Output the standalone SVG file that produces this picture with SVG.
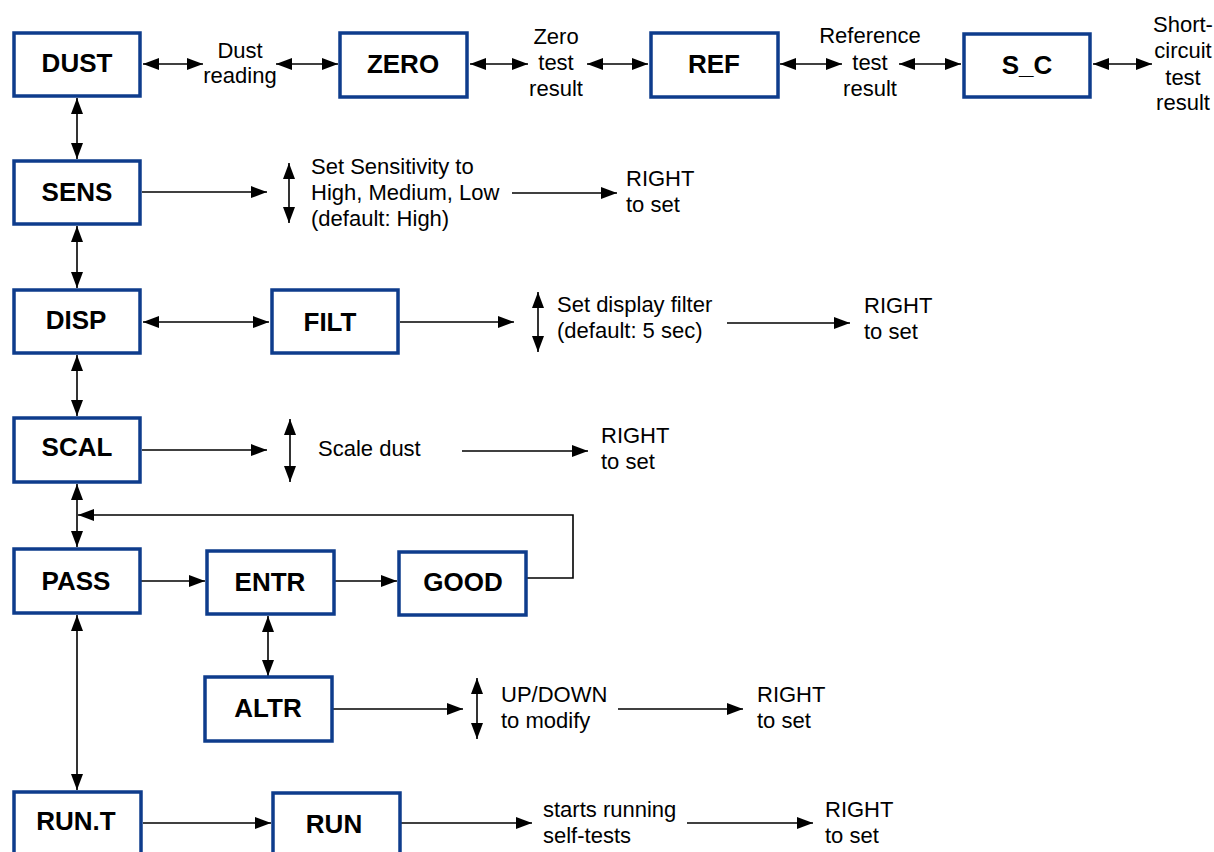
<svg xmlns="http://www.w3.org/2000/svg" width="1214" height="852" viewBox="0 0 1214 852">
<style>
.box{fill:#fff;stroke:#0e3c8c;stroke-width:3.5}
.bl{font-family:"Liberation Sans",Arial,sans-serif;font-weight:bold;font-size:26px;fill:#000;text-anchor:middle}
.t{font-family:"Liberation Sans",Arial,sans-serif;font-size:22px;fill:#000}
.c{text-anchor:middle}
.ln{fill:none;stroke:#000;stroke-width:1.6}
.a{marker-end:url(#ah)}
.d{marker-start:url(#ah);marker-end:url(#ah)}
</style>
<defs>
<marker id="ah" markerUnits="userSpaceOnUse" markerWidth="16" markerHeight="12" refX="16" refY="6" orient="auto-start-reverse">
<path d="M0,0 L16,6 L0,12 z" fill="#000"/>
</marker>
</defs>
<rect width="1214" height="852" fill="#fff"/>
<g id="connectors">
<line class="ln d" x1="143" y1="64" x2="203" y2="64"/>
<line class="ln d" x1="276" y1="64" x2="338" y2="64"/>
<line class="ln d" x1="470" y1="64" x2="528" y2="64"/>
<line class="ln d" x1="587" y1="64" x2="648" y2="64"/>
<line class="ln d" x1="780" y1="64" x2="842" y2="64"/>
<line class="ln d" x1="899" y1="64" x2="961" y2="64"/>
<line class="ln d" x1="1093" y1="64" x2="1152" y2="64"/>
<line class="ln d" x1="77" y1="98" x2="77" y2="159"/>
<line class="ln d" x1="77" y1="226" x2="77" y2="288"/>
<line class="ln d" x1="77" y1="355" x2="77" y2="416"/>
<line class="ln d" x1="77" y1="484" x2="77" y2="547"/>
<line class="ln d" x1="77" y1="615" x2="77" y2="790"/>
<line class="ln a" x1="142" y1="192" x2="267" y2="192"/>
<line class="ln d" x1="289" y1="163" x2="289" y2="223"/>
<line class="ln a" x1="512" y1="193" x2="617" y2="193"/>
<line class="ln d" x1="143" y1="322" x2="269" y2="322"/>
<line class="ln a" x1="400" y1="322" x2="514" y2="322"/>
<line class="ln d" x1="538" y1="292" x2="538" y2="352"/>
<line class="ln a" x1="727" y1="323" x2="850" y2="323"/>
<line class="ln a" x1="142" y1="450" x2="267" y2="450"/>
<line class="ln d" x1="290" y1="419" x2="290" y2="482"/>
<line class="ln a" x1="462" y1="451" x2="588" y2="451"/>
<line class="ln a" x1="141" y1="581" x2="205" y2="581"/>
<line class="ln a" x1="335" y1="581" x2="397" y2="581"/>
<polyline class="ln a" points="527,578 573,578 573,515 78,515"/>
<line class="ln d" x1="268" y1="616" x2="268" y2="676"/>
<line class="ln a" x1="333" y1="709" x2="463" y2="709"/>
<line class="ln d" x1="477" y1="678" x2="477" y2="739"/>
<line class="ln a" x1="618" y1="709" x2="743" y2="709"/>
<line class="ln a" x1="143" y1="823" x2="271" y2="823"/>
<line class="ln a" x1="401" y1="823" x2="532" y2="823"/>
<line class="ln a" x1="687" y1="823" x2="813" y2="823"/>
</g>
<g id="DUST"><rect class="box" x="14" y="33" width="126" height="63"/><text class="bl" x="77" y="72">DUST</text></g>
<g id="ZERO"><rect class="box" x="340" y="33" width="127" height="64"/><text class="bl" x="403" y="73">ZERO</text></g>
<g id="REF"><rect class="box" x="651" y="33" width="127" height="64"/><text class="bl" x="714" y="73">REF</text></g>
<g id="S_C"><rect class="box" x="964" y="34" width="126" height="63"/><text class="bl" x="1027" y="74">S_C</text></g>
<g id="SENS"><rect class="box" x="14" y="161" width="126" height="63"/><text class="bl" x="77" y="201">SENS</text></g>
<g id="DISP"><rect class="box" x="14" y="290" width="126" height="63"/><text class="bl" x="76" y="329">DISP</text></g>
<g id="FILT"><rect class="box" x="272" y="290" width="126" height="63"/><text class="bl" x="330" y="331">FILT</text></g>
<g id="SCAL"><rect class="box" x="14" y="418" width="126" height="64"/><text class="bl" x="77" y="456">SCAL</text></g>
<g id="PASS"><rect class="box" x="14" y="549" width="126" height="64"/><text class="bl" x="76" y="590">PASS</text></g>
<g id="ENTR"><rect class="box" x="207" y="551" width="127" height="63"/><text class="bl" x="270" y="591">ENTR</text></g>
<g id="GOOD"><rect class="box" x="399" y="552" width="127" height="63"/><text class="bl" x="463" y="591">GOOD</text></g>
<g id="ALTR"><rect class="box" x="205" y="677" width="127" height="64"/><text class="bl" x="268" y="717">ALTR</text></g>
<g id="RUN.T"><rect class="box" x="14" y="792" width="127" height="64"/><text class="bl" x="76" y="830">RUN.T</text></g>
<g id="RUN"><rect class="box" x="273" y="793" width="127" height="64"/><text class="bl" x="334" y="833">RUN</text></g>
<g id="labels">
<text class="t c" x="240" y="58">Dust</text>
<text class="t c" x="240" y="83">reading</text>
<text class="t c" x="556" y="44">Zero</text>
<text class="t c" x="556" y="70">test</text>
<text class="t c" x="556" y="96">result</text>
<text class="t c" x="870" y="43">Reference</text>
<text class="t c" x="870" y="70">test</text>
<text class="t c" x="870" y="96">result</text>
<text class="t c" x="1183" y="32">Short-</text>
<text class="t c" x="1183" y="58">circuit</text>
<text class="t c" x="1183" y="85">test</text>
<text class="t c" x="1183" y="110">result</text>
<text class="t" x="311" y="174">Set Sensitivity to</text>
<text class="t" x="311" y="200">High, Medium, Low</text>
<text class="t" x="311" y="226">(default: High)</text>
<text class="t" x="626" y="186">RIGHT</text>
<text class="t" x="626" y="212">to set</text>
<text class="t" x="557" y="312">Set display filter</text>
<text class="t" x="557" y="338">(default: 5 sec)</text>
<text class="t" x="864" y="313">RIGHT</text>
<text class="t" x="864" y="339">to set</text>
<text class="t" x="318" y="456">Scale dust</text>
<text class="t" x="601" y="443">RIGHT</text>
<text class="t" x="601" y="469">to set</text>
<text class="t" x="501" y="702">UP/DOWN</text>
<text class="t" x="501" y="728">to modify</text>
<text class="t" x="757" y="702">RIGHT</text>
<text class="t" x="757" y="728">to set</text>
<text class="t" x="543" y="817">starts running</text>
<text class="t" x="543" y="843">self-tests</text>
<text class="t" x="825" y="817">RIGHT</text>
<text class="t" x="825" y="843">to set</text>
</g>
</svg>
